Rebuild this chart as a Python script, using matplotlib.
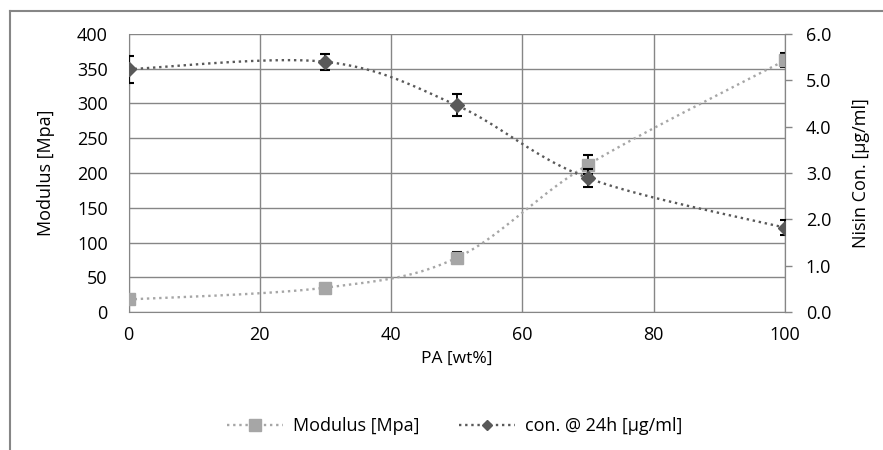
import numpy as np
import matplotlib
matplotlib.use("Agg")
import matplotlib.pyplot as plt
from matplotlib.lines import Line2D

# Data
pa = [0, 30, 50, 70, 100]                      # PA [wt%]
modulus = [18, 35, 78, 212, 362]               # Modulus [Mpa]
modulus_err = [2, 3, 8, 14, 10]
conc = [5.24, 5.40, 4.46, 2.89, 1.82]          # Nisin con. [ug/ml]
conc_err = [0.29, 0.17, 0.24, 0.19, 0.16]

x_ticks = [0, 20, 40, 60, 80, 100]
left_ticks = [0, 50, 100, 150, 200, 250, 300, 350, 400]
right_ticks = [0, 1, 2, 3, 4, 5, 6]

plt.rcParams['font.family'] = ['Open Sans', 'DejaVu Sans']
plt.rcParams['font.size'] = 12


def smooth(xs, ys, n=40):
    # Excel-style smoothed line (Catmull-Rom through the points)
    p = np.column_stack([xs, ys]).astype(float)
    p = np.vstack([p[0], p, p[-1]])
    out = []
    t = np.linspace(0, 1, n)[:, None]
    for i in range(1, len(p) - 2):
        p0, p1, p2, p3 = p[i - 1], p[i], p[i + 1], p[i + 2]
        c1 = p1 + (p2 - p0) / 6
        c2 = p2 - (p3 - p1) / 6
        seg = ((1 - t) ** 3) * p1 + 3 * ((1 - t) ** 2) * t * c1 + 3 * (1 - t) * t ** 2 * c2 + t ** 3 * p2
        out.append(seg)
    s = np.vstack(out)
    return s[:, 0], s[:, 1]


light = '#A6A6A6'
dark = '#595959'
axis_col = '#868686'
dots = (0, (1, 1.6))

fig = plt.figure(figsize=(8.83, 4.5), dpi=100)
ax = fig.add_axes([128.5 / 883, 1 - 312 / 450, (785 - 128.5) / 883, (312 - 34) / 450])

# outer chart border (left and top visible)
fig.add_artist(Line2D([9.5 / 883, 9.5 / 883], [0, 1 - 11 / 450], color=axis_col, lw=1.5))
fig.add_artist(Line2D([9.5 / 883, 1], [1 - 11 / 450, 1 - 11 / 450], color=axis_col, lw=1.5))

sx, sy = smooth(pa, modulus)
ax.plot(sx, sy, color=light, ls=dots, lw=1.7)
ax.errorbar(pa, modulus, yerr=modulus_err, fmt='none', ecolor='black', elinewidth=1.3, capsize=3.5, capthick=1.5, zorder=3)
ax.plot(pa, modulus, 's', color=light, ms=9, zorder=4)

ax.set_xlim(0, 100)
ax.set_ylim(0, 400)
ax.set_xticks(x_ticks)
ax.set_yticks(left_ticks)
ax.grid(True, color=axis_col, lw=1)
ax.set_axisbelow(True)
ax.tick_params(axis='x', length=0, pad=10, labelsize=13, colors='black')
ax.tick_params(axis='y', length=0, pad=15, labelsize=13, colors='black')
for s in ax.spines.values():
    s.set_color(axis_col)
ax.spines['top'].set_visible(False)
ax.set_xlabel('PA [wt%]', fontsize=12.5)
ax.set_ylabel('Modulus [Mpa]', fontsize=13)
ax.xaxis.set_label_coords(0.5, -0.14)
ax.yaxis.set_label_coords(-0.112, 0.5)

ax2 = ax.twinx()
sx, sy = smooth(pa, conc)
ax2.plot(sx, sy, color=dark, ls=dots, lw=1.7)
ax2.errorbar(pa, conc, yerr=conc_err, fmt='none', ecolor='black', elinewidth=1.3, capsize=3.5, capthick=1.5, zorder=3)
ax2.plot(pa, conc, 'D', color=dark, ms=7.5, zorder=4)
ax2.set_ylim(0, 6)
ax2.set_yticks(right_ticks)
ax2.set_yticklabels([f'{v:.1f}' for v in right_ticks])
ax2.tick_params(axis='y', length=5, width=1, color=axis_col, pad=10, labelsize=13)
for s in ax2.spines.values():
    s.set_visible(False)
ax2.spines['right'].set_visible(True)
ax2.spines['right'].set_color(axis_col)
ax2.set_ylabel('Nisin Con. [µg/ml]', fontsize=13)
ax2.yaxis.set_label_coords(1.102, 0.5)

handles = [
    Line2D([], [], color=light, ls=dots, lw=1.7, marker='s', ms=8),
    Line2D([], [], color=dark, ls=dots, lw=1.7, marker='D', ms=5.5),
]
fig.legend(handles, ['Modulus [Mpa]', 'con. @ 24h [µg/ml]'], loc='center',
           bbox_to_anchor=(455 / 883, 1 - 426 / 450), ncol=2, frameon=False,
           fontsize=13, handlelength=3.1, handletextpad=0.55, columnspacing=2.2)

fig.savefig('out.png', dpi=100)
